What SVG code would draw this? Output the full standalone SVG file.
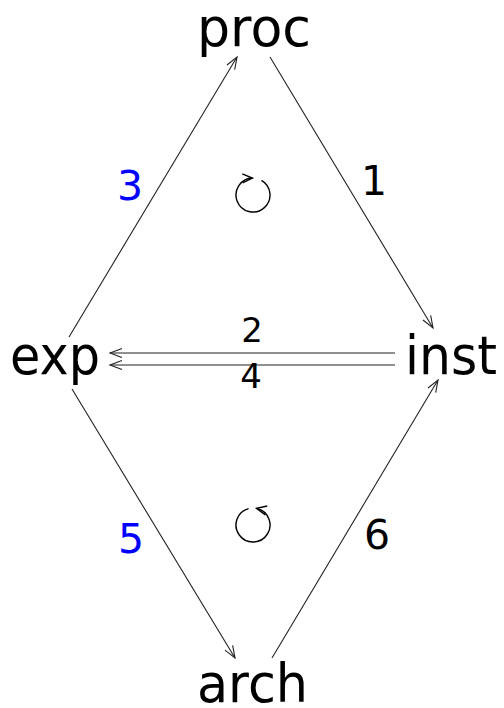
<svg xmlns="http://www.w3.org/2000/svg" width="504" height="708" viewBox="0 0 504 708">
<defs>
<style>
.node{font-family:"DejaVu Sans","Liberation Sans",sans-serif;font-size:54px;fill:#000}
.lbl{font-family:"DejaVu Sans","Liberation Sans",sans-serif;font-size:41px;fill:#000;text-anchor:middle}
.sm{font-size:34px}
.blue{fill:#0000ff}
.edge{stroke:#222;stroke-width:1.1;fill:none;marker-end:url(#ah)}
.cyc{stroke:#000;stroke-width:1.4;fill:none;marker-end:url(#ch)}
</style>
<marker id="ah" markerUnits="userSpaceOnUse" markerWidth="16" markerHeight="12" viewBox="-14 -6 16 12" refX="0" refY="0" orient="auto">
<path d="M-12,-4.5 L0,0 L-12,4.5" fill="none" stroke="#222" stroke-width="1.1"/>
</marker>
<marker id="ch" markerUnits="userSpaceOnUse" markerWidth="14" markerHeight="12" viewBox="-12 -6 14 12" refX="0" refY="0" orient="auto">
<path d="M-10,-4.5 L0,0 L-10,4.5" fill="none" stroke="#000" stroke-width="1.4"/>
</marker>
</defs>
<rect width="504" height="708" fill="#fff"/>
<g id="proc"><text class="node" x="197" y="46" textLength="114" lengthAdjust="spacingAndGlyphs">proc</text></g>
<g id="exp"><text class="node" x="10" y="374" textLength="90" lengthAdjust="spacingAndGlyphs">exp</text></g>
<g id="inst"><text class="node" x="405" y="374" textLength="92" lengthAdjust="spacingAndGlyphs">inst</text></g>
<g id="arch"><text class="node" x="197" y="702" textLength="111" lengthAdjust="spacingAndGlyphs">arch</text></g>
<g id="connectors">
<line class="edge" x1="69" y1="337" x2="237" y2="57"/>
<line class="edge" x1="270" y1="57" x2="433" y2="328"/>
<line class="edge" x1="395" y1="353" x2="110" y2="353"/>
<line class="edge" x1="395" y1="365" x2="110" y2="365"/>
<line class="edge" x1="72" y1="389" x2="235" y2="658"/>
<line class="edge" x1="272" y1="658" x2="438" y2="380"/>
<path class="cyc" d="M261.5,180.28 A17,17 0 1 1 252.41,178.01"/>
<path class="cyc" d="M248.6,508.58 A17,17 0 1 0 256.53,508.37"/>
</g>
<g id="labels">
<text class="lbl" x="374" y="195">1</text>
<text class="lbl sm" x="252" y="342">2</text>
<text class="lbl blue" x="130" y="200">3</text>
<text class="lbl sm" x="251" y="388">4</text>
<text class="lbl blue" x="131" y="553">5</text>
<text class="lbl" x="377" y="549">6</text>
</g>
</svg>
